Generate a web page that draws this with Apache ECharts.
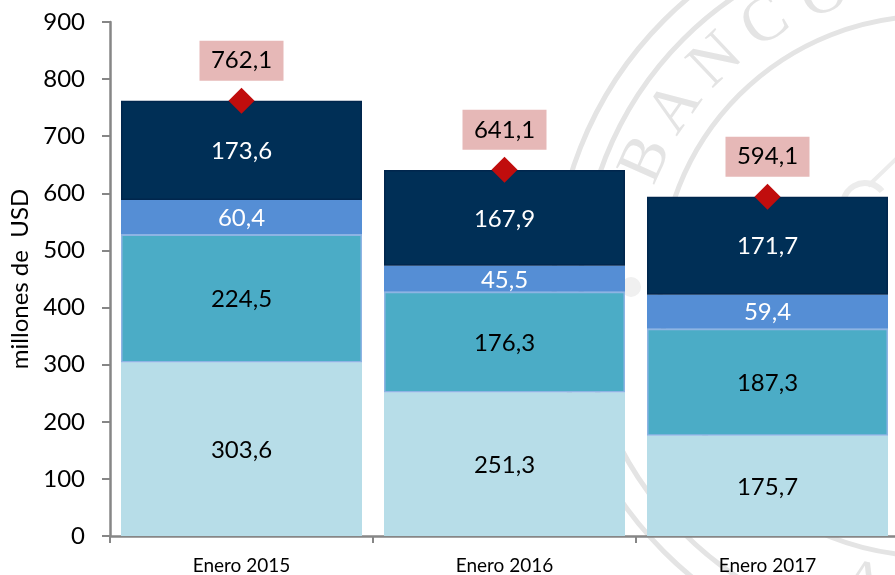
<!DOCTYPE html>
<html>
<head>
<meta charset="utf-8">
<script src="https://cdn.jsdelivr.net/npm/echarts@6/dist/echarts.min.js"></script>
<style>html,body{margin:0;padding:0;background:#fff}#c{width:895px;height:575px}</style>
</head>
<body>
<div id="c"></div>
<script>
const categories = ['Enero 2015', 'Enero 2016', 'Enero 2017'];
const seriesA = [303.6, 251.3, 175.7];
const seriesB = [224.5, 176.3, 187.3];
const seriesC = [60.4, 45.5, 59.4];
const seriesD = [173.6, 167.9, 171.7];
const totals = [762.1, 641.1, 594.1];

const FONT = 'Lato';
const comma = p => p.value.toFixed(1).replace('.', ',');
const CX = 930, CY = 286, WM = '#e4e4e4';
const ring = (r, w) => ({type:'circle', silent:true, z:-10, shape:{cx:CX, cy:CY, r:r}, style:{fill:'none', stroke:WM, lineWidth:w}});
const letter = (ch, deg, r) => {
  const a = deg * Math.PI / 180;
  return {type:'text', silent:true, z:-10, x:CX - r*Math.sin(a), y:CY - r*Math.cos(a), rotation:a,
    style:{text:ch, fill:WM, font:'64px "Liberation Serif"', align:'center', verticalAlign:'middle'}};
};
const bar = (name, data, color, labelColor, border) => ({
  name, type:'bar', stack:'t', data, barWidth:241,
  itemStyle:{color, borderColor:border, borderWidth:1.5},
  label:{show:true, position:'inside', offset:[0, 1], color:labelColor, fontFamily:FONT, fontSize:24, formatter:comma}
});

const chart = echarts.init(document.getElementById('c'), null, {renderer:'canvas'});
chart.setOption({
  animation:false,
  backgroundColor:'#ffffff',
  graphic:[
    ring(376, 5), ring(349, 5), ring(270, 5),
    letter('B',66,310), letter('A',55,310), letter('N',43.5,310), letter('C',32,310), letter('O',20,310),
    {type:'text', silent:true, z:-10, x:862, y:585, rotation:-0.24,
     style:{text:'A', fill:WM, font:'60px "Liberation Serif"', align:'center', verticalAlign:'middle'}},
    {type:'circle', silent:true, z:-10, shape:{cx:631, cy:287, r:10}, style:{fill:'#f0f0f0'}},
    {type:'line', silent:true, z:-10, shape:{x1:868, y1:186, x2:897, y2:158}, style:{stroke:'#ececec', lineWidth:4}},
    {type:'arc', silent:true, z:-10, shape:{cx:865, cy:205, r:22, startAngle:3.4, endAngle:5.6}, style:{fill:'none', stroke:'#ececec', lineWidth:6}}
  ],
  grid:{left:110, right:-4, top:22, bottom:39, outerBoundsMode:'none'},
  xAxis:{type:'category', data:categories,
    axisLine:{lineStyle:{color:'#868686', width:2.5}},
    axisTick:{show:true, length:7, lineStyle:{color:'#868686', width:2}},
    axisLabel:{color:'#000', fontFamily:FONT, fontSize:19, margin:20}},
  yAxis:{type:'value', min:0, max:900, interval:100,
    name:'millones de  USD', nameLocation:'middle', nameGap:72, nameRotate:90,
    nameTextStyle:{color:'#000', fontFamily:FONT, fontSize:24},
    axisLine:{show:true, lineStyle:{color:'#868686', width:2.5}},
    axisTick:{show:true, length:8, lineStyle:{color:'#868686', width:2}},
    splitLine:{show:false},
    axisLabel:{color:'#000', fontFamily:FONT, fontSize:24, margin:25}},
  series:[
    bar('A', seriesA, '#b7dde8', '#000', '#b7dde8'),
    bar('B', seriesB, '#4bacc6', '#000', '#8eb4e3'),
    bar('C', seriesC, '#558ed5', '#fff', '#558ed5'),
    bar('D', seriesD, '#002f56', '#fff', '#00264d'),
    {name:'Total', type:'line', data:totals, symbol:'diamond', symbolSize:26, z:10,
     lineStyle:{opacity:0}, itemStyle:{color:'#c00d0d'},
     label:{show:true, position:'top', distance:27, color:'#000', fontFamily:FONT, fontSize:24,
       backgroundColor:'#e6b8b7', width:84, height:40, lineHeight:40, align:'center', verticalAlign:'middle', formatter:comma}}
  ]
});
</script>
</body>
</html>
